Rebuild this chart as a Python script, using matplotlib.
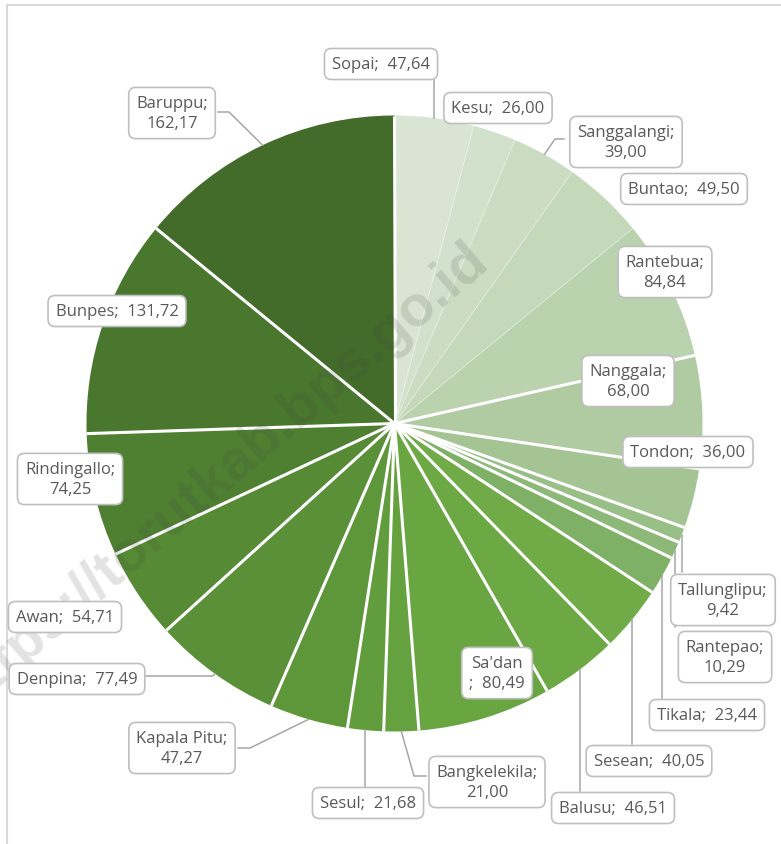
import numpy as np
import matplotlib
matplotlib.use("Agg")
import matplotlib.pyplot as plt

# data: kecamatan and values, clockwise from 12 o'clock
names = ["Sopai", "Kesu", "Sanggalangi", "Buntao", "Rantebua", "Nanggala",
         "Tondon", "Tallunglipu", "Rantepao", "Tikala", "Sesean", "Balusu",
         "Sa'dan", "Bangkelekila", "Sesul", "Kapala Pitu", "Denpina", "Awan",
         "Rindingallo", "Bunpes", "Baruppu"]
values = [47.64, 26.00, 39.00, 49.50, 84.84, 68.00, 36.00, 9.42, 10.29,
          23.44, 40.05, 46.51, 80.49, 21.00, 21.68, 47.27, 77.49, 54.71,
          74.25, 131.72, 162.17]

colors = ["#d9e5d2", "#d2e1cb", "#cbdcc3", "#c4d8ba", "#bad2ae", "#b0cba2",
          "#a4c593", "#98bf86", "#8cb878", "#7eb165", "#70ab48", "#6ca944",
          "#69a541", "#66a13f", "#629d3d", "#5e963a", "#5a9038", "#568a35",
          "#4f8031", "#4a772e", "#436c2b"]

W, H = 781, 845
CX, CY, R = 394.5, H - 424.5, 308

# label box centres (pixels from top-left) and whether the label wraps
label_pos = {
    "Sopai": (381, 65), "Kesu": (498, 109), "Sanggalangi": (626, 143),
    "Buntao": (684, 190), "Rantebua": (665, 273), "Nanggala": (628, 382),
    "Tondon": (688, 453), "Tallunglipu": (723, 601), "Rantepao": (725, 658),
    "Tikala": (707, 716), "Sesean": (649, 762), "Balusu": (613, 809),
    "Sa'dan": (497, 674), "Bangkelekila": (487, 783), "Sesul": (368, 804),
    "Kapala Pitu": (182, 749), "Denpina": (77, 680), "Awan": (65, 618),
    "Rindingallo": (70, 480), "Bunpes": (117, 312), "Baruppu": (172, 114),
}
two_line = {"Sanggalangi", "Rantebua", "Nanggala", "Tallunglipu", "Rantepao",
            "Bangkelekila", "Kapala Pitu", "Rindingallo", "Baruppu"}
# leader line: 'v' = straight vertical to box edge, else elbow point + box anchor
leaders = {
    "Sopai": ("v", 81), "Tallunglipu": ("v", 573), "Rantepao": ("v", 628),
    "Tikala": ("v", 699), "Sesean": ("v", 745), "Balusu": ("v", 792),
    "Sesul": ("v", 787),
    "Sanggalangi": ((555, 140), (564, 140)),
    "Bangkelekila": ((414, 777), (426, 777)),
    "Kapala Pitu": ((250, 749), (238, 749)),
    "Denpina": ((213, 677), (146, 677)),
    "Baruppu": ((229, 113), (218, 113)),
}

fig = plt.figure(figsize=(W / 100, H / 100), dpi=100)
ax = fig.add_axes([0, 0, 1, 1])

ax.pie(values, colors=colors, startangle=90, counterclock=False,
       center=(CX, CY), radius=R, frame=True,
       wedgeprops=dict(linewidth=0))
ax.set_xlim(0, W)
ax.set_ylim(0, H)
ax.set_aspect("equal")
ax.axis("off")

# separators between slices
total = sum(values)
cum = np.cumsum(values)
for i, c in enumerate(cum):
    ang = np.deg2rad(90 - 360 * c / total)
    x2, y2 = CX + R * np.cos(ang), CY + R * np.sin(ang)
    if i < 4:
        ax.plot([CX, x2], [CY, y2], color="white", lw=0.6, alpha=0.45, zorder=3)
    else:
        ax.plot([CX, x2], [CY, y2], color="white", lw=2.2, zorder=3,
                solid_capstyle="butt")

# watermark (cropped at the left edge, as in the source)
ax.text(219, H - 476, "https://torutkab.bps.go.id", rotation=40.5,
        fontsize=41, fontweight="bold", family="Liberation Sans",
        color="#404040", alpha=0.15, ha="center", va="center", zorder=4,
        clip_on=True)

# labels
starts = np.concatenate([[0], cum[:-1]])
for name, v, s in zip(names, values, starts):
    mid = np.deg2rad(90 - 360 * (s + v / 2) / total)
    rx, ry = CX + R * np.cos(mid), CY + R * np.sin(mid)
    val = f"{v:.2f}".replace(".", ",")
    if name == "Sa'dan":
        txt = f"{name}\n;  {val}"
    elif name in two_line:
        txt = f"{name};\n{val}"
    else:
        txt = f"{name};  {val}"
    bx, by = label_pos[name]
    if name in leaders:
        ld = leaders[name]
        if ld[0] == "v":
            xs, ys = [rx, rx], [ry, H - ld[1]]
        else:
            (ex, ey), (ax_, ay_) = ld
            xs, ys = [rx, ex, ax_], [ry, H - ey, H - ay_]
        ax.plot(xs, ys, color="#a6a6a6", lw=1.1, zorder=5)
    ax.text(bx, H - by, txt, ha="center", va="center", multialignment="center",
            fontsize=12, family="Open Sans", color="#595959", linespacing=1.35,
            zorder=6,
            bbox=dict(boxstyle="round,pad=0.45,rounding_size=0.42",
                      fc="white", ec="#bfbfbf", lw=1.2))

# chart area frame (cropped on right and bottom)
ax.plot([6.5, 6.5], [-5, H - 5.5], color="#d9d9d9", lw=1.5, zorder=1)
ax.plot([6.5, W + 5], [H - 5.5, H - 5.5], color="#d9d9d9", lw=1.5, zorder=1)

fig.savefig("out.png", dpi=100)
